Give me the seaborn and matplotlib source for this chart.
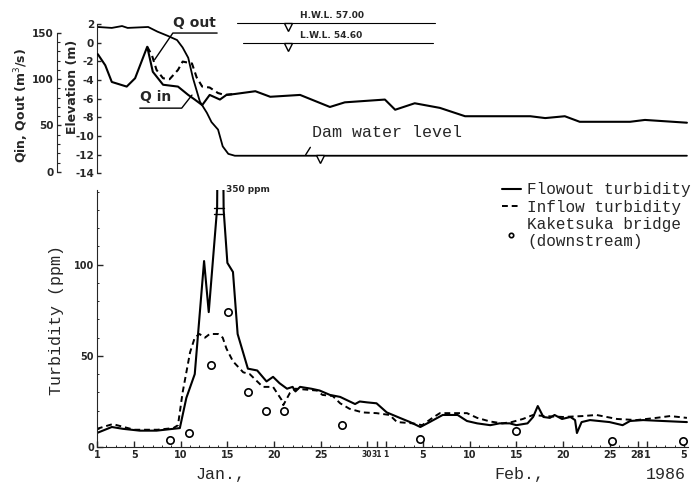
import numpy as np
import pandas as pd
import seaborn as sns
import matplotlib.pyplot as plt
from matplotlib.ticker import MultipleLocator, FixedLocator

# --- top panel: discharge (m3/s) and dam water level (m, relative to L.W.L.) ---
qin_day = [1.1, 1.9, 2.6, 4.2, 5.1, 6.4, 7.0, 8.1, 9.7, 10.8, 11.5, 12.3, 13.1, 14.2,
           14.9, 15.8, 18.0, 19.6, 22.8, 26.0, 27.6, 31.9, 33.0, 35.1, 37.8, 40.5,
           47.5, 49.1, 51.2, 52.8, 58.2, 59.8, 64.3]
qin_val = [127, 115, 97, 92, 101, 135, 108, 94, 92, 83, 78, 72, 83, 78,
           83, 84, 87, 81, 83, 70, 75, 78, 67, 74, 69, 60,
           60, 58, 60, 54, 54, 56, 53]

qout_day = [6.4, 6.9, 7.4, 8.1, 8.8, 9.7, 10.2, 11.2, 11.7, 12.3, 13.1, 14.0, 14.7, 15.8]
qout_val = [135, 126, 110, 101, 100, 110, 119, 117, 102, 92, 91, 85, 83, 84]

level_day = [1.1, 2.6, 3.7, 4.3, 6.5, 7.5, 8.6, 9.6, 10.2, 10.8, 11.3, 12.05, 12.8,
             13.3, 14.0, 14.5, 15.1, 15.8, 30.0, 45.0, 64.3]
level_val = [1.7, 1.6, 1.8, 1.6, 1.7, 1.2, 0.75, 0.3, -0.5, -1.6, -3.75, -6.3, -7.5,
             -8.5, -9.3, -11.1, -11.9, -12.1, -12.1, -12.1, -12.1]

# --- bottom panel: turbidity (ppm) ---
out_day = [1.0, 2.6, 3.8, 5.6, 7.4, 9.9, 10.6, 11.5, 12.5, 13.0, 13.9, 14.2, 14.6, 15.0,
           15.6, 16.1, 17.2, 18.2, 19.2, 19.9, 20.6, 21.4, 22.0, 22.3, 22.8, 24.0, 24.9,
           26.0, 27.1, 28.7, 29.2, 30.0, 31.0, 32.1, 33.5, 34.6, 35.7, 36.7, 38.1, 39.7,
           40.7, 41.8, 43.2, 44.2, 45.3, 46.0, 47.2, 47.8, 48.3, 48.9, 49.6, 50.1, 50.9,
           51.8, 52.3, 52.5, 53.0, 53.9, 56.0, 57.4, 58.2, 59.6, 61.7, 64.3]
out_val = [7.7, 11, 10, 9, 9, 10.4, 27, 40, 102, 74, 131, 350, 130, 101,
           96, 62, 43, 42, 36, 38.5, 35, 32, 33, 30.5, 33, 32, 31,
           28.6, 27.5, 23.6, 25, 24.5, 24, 19, 16, 13.7, 11, 13.7, 17.6, 17.6,
           14.3, 13, 12, 13, 13, 12, 13, 16.5, 22.5, 16.5, 16, 17.6, 15.4,
           16.5, 14.8, 7.7, 13.7, 14.8, 13.7, 12, 14.3, 14.8, 14.3, 13.7]

in_day = [1.0, 2.7, 5.0, 7.5, 9.2, 9.7, 10.2, 11.0, 11.5, 12.0, 12.6, 13.1, 14.0, 14.5,
          14.9, 15.6, 16.7, 17.4, 18.8, 19.9, 20.8, 21.0, 21.7, 22.3, 24.6, 25.2, 26.3,
          27.1, 28.1, 29.5, 31.0, 32.4, 33.2, 34.9, 35.9, 37.0, 37.8, 39.2, 40.7, 41.8,
          43.2, 44.5, 45.5, 46.7, 47.8, 49.0, 51.0, 53.1, 54.6, 56.8, 58.9, 61.0, 62.5, 64.3]
in_val = [10, 12.6, 9.5, 9.5, 10.4, 12, 30, 52, 60, 62, 60, 62, 62, 60,
          54, 47, 41, 40, 33, 33, 26, 23, 29.6, 32, 31, 28.6, 28,
          24, 21, 19, 18.6, 17.6, 13.7, 13, 12, 16, 18.6, 18.6, 18.6, 16,
          14, 13, 13.7, 15.4, 17.6, 17, 16.5, 17, 17.6, 15.4, 14.8, 16, 17, 16]

kake_day = [8.8, 10.9, 13.2, 15.1, 17.2, 19.1, 21.1, 27.3, 35.7, 46.0, 56.3, 63.9]
kake_val = [4, 7.7, 45, 74, 30, 20, 20, 12, 4.4, 8.8, 3.5, 3.5]

tick_days = [1, 5, 10, 15, 20, 25, 30, 31, 32, 36, 41, 46, 51, 56, 59, 60, 64]
tick_labels = ["1", "5", "10", "15", "20", "25", "30", "31", "1", "5", "10", "15",
               "20", "25", "28", "1", "5"]

sns.set_style("ticks")
plt.rcParams["font.family"] = ["DejaVu Sans"]
mono = "Liberation Mono"
XLIM = (1, 64.4)

fig = plt.figure(figsize=(6.92, 4.87), dpi=100)

# ---------------- top panel ----------------
ax_e = fig.add_axes([0.140, 0.640, 0.854, 0.341])
ax_q = ax_e.twinx()

level = pd.DataFrame({"day": level_day, "elev": level_val})
sns.lineplot(data=level, x="day", y="elev", ax=ax_e, color="black", lw=1.3, sort=False)

qin = pd.DataFrame({"day": qin_day, "q": qin_val})
qout = pd.DataFrame({"day": qout_day, "q": qout_val})
sns.lineplot(data=qin, x="day", y="q", ax=ax_q, color="black", lw=1.5, sort=False)
sns.lineplot(data=qout, x="day", y="q", ax=ax_q, color="black", lw=1.5,
             linestyle=(0, (3, 2)), sort=False)

ax_e.set_xlim(*XLIM)
ax_e.set_ylim(-14.2, 3.6)
ax_q.set_ylim(-3.8, 175.5)

for a in (ax_e, ax_q):
    for s in ("top", "right", "bottom"):
        a.spines[s].set_visible(False)
    a.set_xticks([])
    a.set_xlabel("")
ax_e.spines["left"].set_bounds(-14, 2)
ax_q.spines["left"].set_visible(True)
ax_q.spines["left"].set_position(("outward", 29))
ax_q.spines["left"].set_bounds(0, 150)
ax_q.yaxis.tick_left()
ax_q.yaxis.set_label_position("left")

elev_ticks = list(range(-14, 3, 2))
ax_e.set_yticks(elev_ticks)
ax_e.set_yticklabels([str(v) for v in elev_ticks])
ax_q.set_yticks([0, 50, 100, 150])
ax_q.yaxis.set_minor_locator(FixedLocator(range(0, 151, 10)))
for a in (ax_e, ax_q):
    a.tick_params(axis="y", direction="in", length=3, width=1, labelsize=7.5, pad=2)
    a.tick_params(axis="y", which="minor", direction="in", length=2, width=0.8)
    for t in a.get_yticklabels():
        t.set_fontweight("bold")

ax_e.set_ylabel("Elevation (m)", fontsize=9, fontweight="bold")
ax_e.yaxis.set_label_coords(-0.031, 0.53)
ax_q.set_ylabel("Qin, Qout (m$^3$/s)", fontsize=9, fontweight="bold")
ax_q.yaxis.set_label_coords(-0.112, 0.42)

# H.W.L. / L.W.L. marks
ax_e.plot([16.0, 37.3], [2.15, 2.15], color="black", lw=0.8, clip_on=False)
ax_e.plot([16.7, 37.1], [0.0, 0.0], color="black", lw=0.8, clip_on=False)
ax_e.plot([21.5], [1.75], marker="v", ms=6, mfc="white", mec="black", clip_on=False)
ax_e.plot([21.5], [-0.4], marker="v", ms=6, mfc="white", mec="black", clip_on=False)
ax_e.text(22.8, 2.45, "H.W.L. 57.00", fontsize=6.5, fontweight="bold", va="bottom")
ax_e.text(22.8, 0.3, "L.W.L. 54.60", fontsize=6.5, fontweight="bold", va="bottom")

# Q out / Q in labels with leaders
ax_e.text(9.2, 1.35, "Q out", fontsize=10, fontweight="bold", va="bottom")
ax_e.plot([7.2, 9.15, 13.9], [-1.8, 1.05, 1.05], color="black", lw=1)
ax_e.text(5.6, -6.55, "Q in", fontsize=10, fontweight="bold", va="bottom")
ax_e.plot([5.6, 10.1, 11.2], [-7.0, -7.0, -5.6], color="black", lw=1)

# dam water level label
ax_e.text(24.1, -9.65, "Dam water level", family=mono, fontsize=12, va="center")
ax_e.plot([23.4, 23.9], [-12.0, -11.2], color="black", lw=1)
ax_e.plot([24.9], [-12.5], marker="v", ms=6, mfc="white", mec="black")

# ---------------- bottom panel ----------------
ax = fig.add_axes([0.140, 0.082, 0.854, 0.528])
outflow = pd.DataFrame({"day": out_day, "ppm": out_val})
inflow = pd.DataFrame({"day": in_day, "ppm": in_val})
kake = pd.DataFrame({"day": kake_day, "ppm": kake_val})

sns.lineplot(data=outflow, x="day", y="ppm", ax=ax, color="black", lw=1.5,
             sort=False, label="Flowout turbidity")
sns.lineplot(data=inflow, x="day", y="ppm", ax=ax, color="black", lw=1.4,
             linestyle=(0, (3, 2)), sort=False, label="Inflow turbidity")
sns.scatterplot(data=kake, x="day", y="ppm", ax=ax, marker="o", s=28,
                facecolor="white", edgecolor="black", linewidth=1.2,
                label="Kaketsuka bridge\n(downstream)", zorder=3)

ax.set_xlim(*XLIM)
ax.set_ylim(0, 141)
sns.despine(ax=ax)
ax.set_xticks(tick_days)
ax.set_xticklabels(tick_labels)
ax.xaxis.set_minor_locator(MultipleLocator(1))
ax.set_yticks([0, 50, 100])
ax.yaxis.set_minor_locator(MultipleLocator(10))
ax.tick_params(direction="in", length=4, width=1, labelsize=7, pad=2)
ax.tick_params(which="minor", direction="in", length=1.5, width=0.7)
for t in ax.get_xticklabels() + ax.get_yticklabels():
    t.set_fontweight("bold")
# the crowded month-end labels are squeezed in the original
for t in ax.get_xticklabels()[6:9]:
    t.set_fontsize(5.5)
ax.set_xlabel("")
ax.set_ylabel("Turbidity (ppm)", family=mono, fontsize=12)
ax.yaxis.set_label_coords(-0.056, 0.494)

# axis break on the peak and its value
ax.plot([13.6, 14.6], [131, 131], color="black", lw=1)
ax.plot([13.6, 14.6], [128, 128], color="black", lw=1)
ax.text(14.9, 141, "350 ppm", fontsize=6.5, fontweight="bold", va="center")

ax.text(14.3, -15, "Jan.,", family=mono, fontsize=12, ha="center", va="center", clip_on=False)
ax.text(46.3, -15, "Feb.,", family=mono, fontsize=12, ha="center", va="center", clip_on=False)
ax.text(62.0, -15, "1986", family=mono, fontsize=12, ha="center", va="center", clip_on=False)

ax.legend(loc="upper right", bbox_to_anchor=(1.005, 1.03), frameon=False,
          prop={"family": mono, "size": 11.5}, handlelength=1.2, handletextpad=0.4,
          labelspacing=0.15, borderaxespad=0, borderpad=0, markerscale=0.6)

fig.savefig("out.png", dpi=100)
